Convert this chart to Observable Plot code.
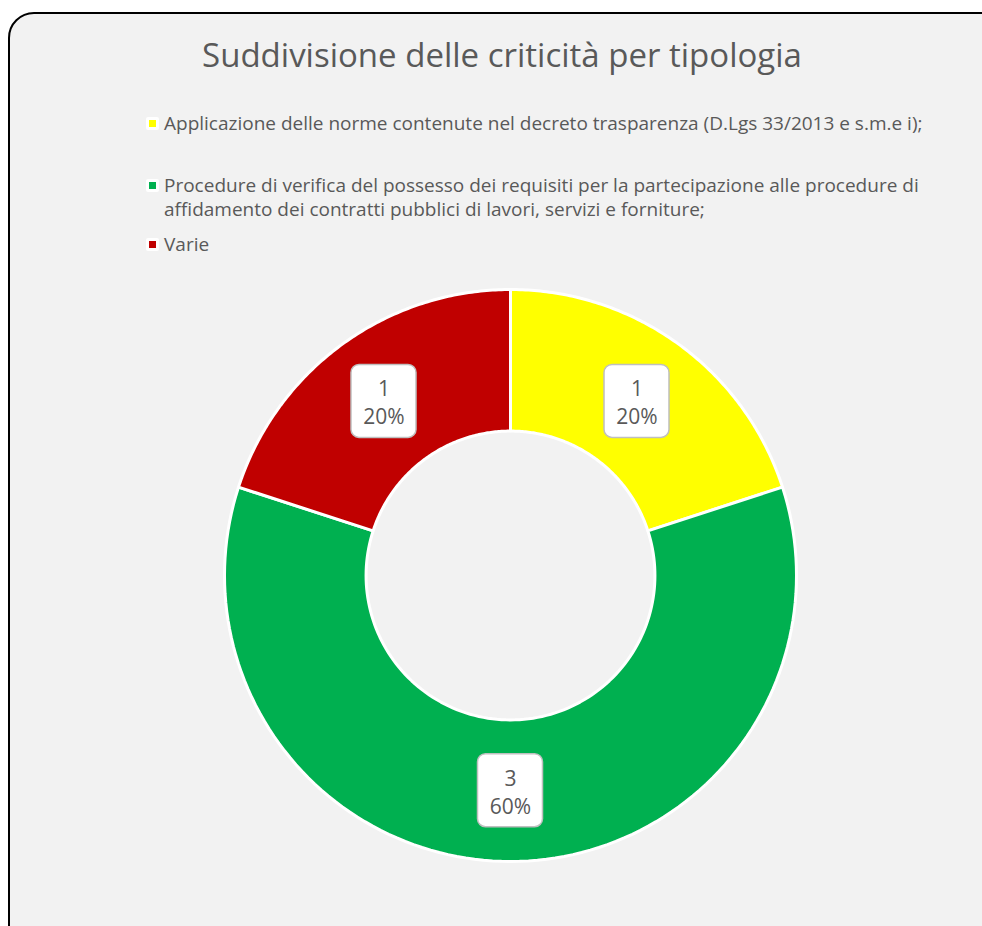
<!DOCTYPE html>
<html>
<head>
<meta charset="utf-8">
<script src="https://cdn.jsdelivr.net/npm/d3@7"></script>
<script src="https://cdn.jsdelivr.net/npm/@observablehq/plot@0.6"></script>
<style>
  html, body { margin: 0; padding: 0; background: #ffffff; width: 982px; height: 926px; overflow: hidden; }
  #frame { position: absolute; left: 8px; top: 12px; width: 1000px; height: 960px; box-sizing: border-box;
           border: 2px solid #000; border-radius: 26px; background: #f2f2f2; }
  #chart { position: absolute; left: 0; top: 0; }
  .txt { position: absolute; font-family: "Open Sans", sans-serif; color: #595959; white-space: nowrap; }
  #title { left: 0; width: 1004px; text-align: center; top: 32px; font-size: 33px; }
  .leg { left: 164px; font-size: 19px; line-height: 24px; }
  .sw { position: absolute; width: 13px; height: 13px; background: #fff; border-radius: 2px; }
  .sw i { position: absolute; left: 3px; top: 3px; width: 7px; height: 7px; }
</style>
</head>
<body>
<div id="frame"></div>
<div id="chart"></div>
<div id="title" class="txt"></div>
<div id="legend"></div>
<script>
const title = "Suddivisione delle criticità per tipologia";
const categories = [
  "Applicazione delle norme contenute nel decreto trasparenza (D.Lgs 33/2013 e s.m.e i);",
  "Procedure di verifica del possesso dei requisiti per la partecipazione alle procedure di affidamento dei contratti pubblici di lavori, servizi e forniture;",
  "Varie"
];
const legendLines = [
  ["Applicazione delle norme contenute nel decreto trasparenza (D.Lgs 33/2013 e s.m.e i);"],
  ["Procedure di verifica del possesso dei requisiti per la partecipazione alle procedure di",
   "affidamento dei contratti pubblici di lavori, servizi e forniture;"],
  ["Varie"]
];
const values = [1, 3, 1];
const colors = ["#ffff00", "#00b050", "#c00000"];

document.getElementById("title").textContent = title;

// legend
const legendTop = [111, 173, 232];
const legend = document.getElementById("legend");
legendLines.forEach((lines, i) => {
  const sw = document.createElement("div");
  sw.className = "sw";
  sw.style.left = "146px";
  sw.style.top = (legendTop[i] + 6) + "px";
  const inner = document.createElement("i");
  inner.style.background = colors[i];
  sw.appendChild(inner);
  legend.appendChild(sw);
  const t = document.createElement("div");
  t.className = "txt leg";
  t.style.top = legendTop[i] + "px";
  t.innerHTML = lines.map(l => l.replace(/&/g,"&amp;")).join("<br>");
  legend.appendChild(t);
});

// donut geometry
const total = d3.sum(values);
const pie = d3.pie().sort(null).value(d => d)(values);
const inner = 0.505, outer = 1;
const ringPts = [];
pie.forEach((s, i) => {
  const n = 120;
  const angs = d3.range(n + 1).map(k => s.startAngle + (s.endAngle - s.startAngle) * k / n);
  angs.forEach(a => ringPts.push({cat: categories[i], x: outer * Math.sin(a), y: outer * Math.cos(a)}));
  angs.slice().reverse().forEach(a => ringPts.push({cat: categories[i], x: inner * Math.sin(a), y: inner * Math.cos(a)}));
});
const labels = pie.map((s, i) => {
  const a = (s.startAngle + s.endAngle) / 2, r = (inner + outer) / 2;
  return {cat: categories[i], x: r * Math.sin(a), y: r * Math.cos(a),
          text: `${values[i]}\n${Math.round(values[i] / total * 100)}%`};
});

const R = 286;            // pixels per data unit
const bw = 32.5 / R, bh = 36.5 / R;

const plot = Plot.plot({
  width: 982, height: 926,
  margin: 0,
  style: {background: "transparent", overflow: "visible"},
  x: {domain: [-1, 1], range: [510 - R, 510 + R], axis: null},
  y: {domain: [-1, 1], range: [575 + R, 575 - R], axis: null},
  color: {domain: categories, range: colors},
  marks: [
    Plot.line(ringPts, {x: "x", y: "y", z: "cat", fill: "cat", stroke: "#ffffff", strokeWidth: 3,
      curve: "linear-closed", strokeLinejoin: "miter"}),
    Plot.rect(labels, {x1: d => d.x - bw, x2: d => d.x + bw, y1: d => d.y - bh, y2: d => d.y + bh,
      fill: "#ffffff", stroke: "#bfbfbf", strokeWidth: 1.5, rx: 8}),
    Plot.text(labels, {x: "x", y: "y", text: "text", fill: "#595959", fontSize: 21, lineHeight: 1.33,
      fontFamily: "Open Sans"})
  ]
});
document.getElementById("chart").appendChild(plot);
</script>
</body>
</html>
